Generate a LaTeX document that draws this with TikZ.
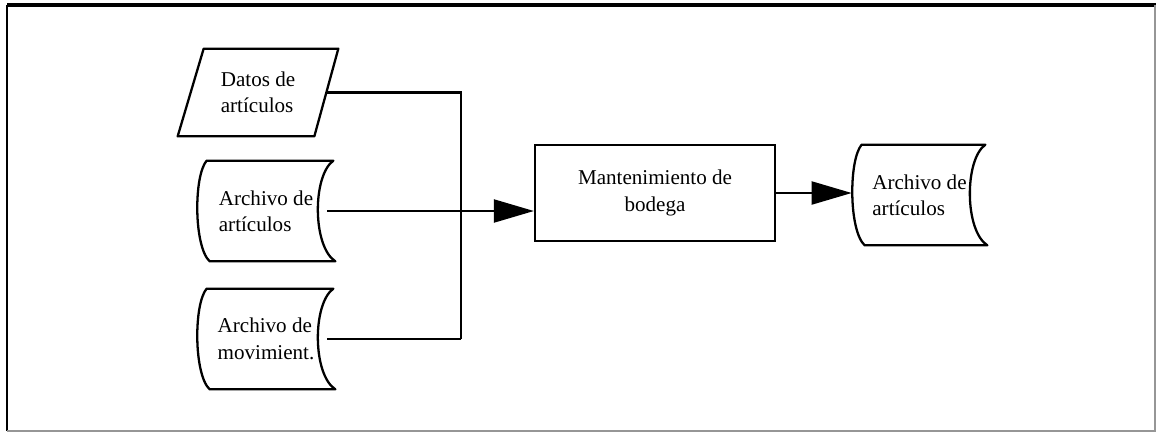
\documentclass[tikz,border=0pt]{standalone}
\usepackage{fontspec}
\setmainfont{Liberation Serif}
\usetikzlibrary{arrows.meta}
\definecolor{framegray}{RGB}{150,150,150}

\begin{document}
\begin{tikzpicture}[x=0.02cm,y=-0.02cm,
  font=\fontsize{12}{15}\selectfont,
  io/.style={minimum width=3.2cm,minimum height=1.74cm,inner sep=0pt,align=left},
  store/.style={minimum width=2.76cm,minimum height=2cm,inner sep=0pt,align=left},
  proc/.style={draw,line width=1.3pt,minimum width=4.8cm,minimum height=1.92cm,align=center},
  outline/.style={line width=1.3pt,line join=round},
  link/.style={line width=1.2pt},
  arr/.style={link,-{Triangle[length=0.8cm,width=0.46cm]}}
]
\useasboundingbox (0,0) rectangle (1158,433);
\draw[line width=2pt] (7,5) -- (1156,5);
\draw[line width=1pt] (7,5) -- (7,431);
\draw[framegray,line width=0.6pt] (1155,5) -- (1155,431) -- (7,431);

\node[io] (datos) at (258,92.5) {Datos de\\artículos};
\node[store] (arch) at (266,211) {Archivo de\\artículos};
\node[store] (mov) at (266,339) {Archivo de\\movimient.};
\node[proc] (mant) at (655,193) {Mantenimiento de\\bodega};
\node[store,minimum width=2.7cm] (sal) at (919.5,195) {Archivo de\\artículos};
\coordinate (bus) at (461,339);

\draw[outline] ([xshift=0.52cm]datos.north west) -- (datos.north east) -- ([xshift=-0.48cm]datos.south east) -- (datos.south west) -- cycle;
\foreach \n in {arch,mov,sal}
  \draw[outline] ([xshift=0.2cm]\n.north west) -- ([xshift=-0.04cm]\n.north east)
    .. controls ([xshift=-0.46cm,yshift=-0.3cm]\n.north east) and ([xshift=-0.46cm,yshift=0.3cm]\n.south east) .. (\n.south east)
    -- ([xshift=0.26cm]\n.south west)
    .. controls ([xshift=-0.06cm,yshift=0.3cm]\n.south west) and ([xshift=-0.06cm,yshift=-0.3cm]\n.north west) .. cycle;

\draw[link] ([xshift=-0.24cm]datos.east) -| (bus);
\draw[link] ([xshift=-0.16cm]mov.east) -- (bus);
\draw[arr] ([xshift=-0.16cm]arch.east) -- (arch.east -| mant.west);
\draw[arr] (mant.east) -- (mant.east -| sal.west);
\end{tikzpicture}
\end{document}
